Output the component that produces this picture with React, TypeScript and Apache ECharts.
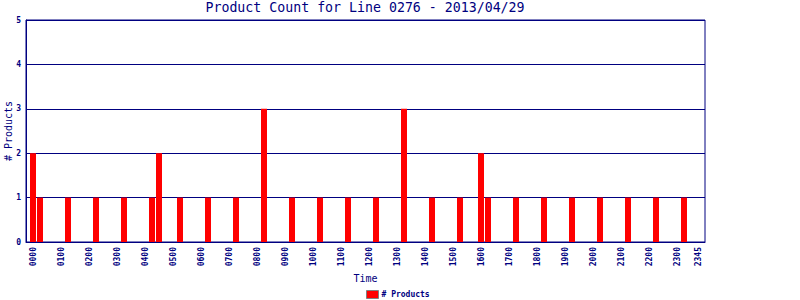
import React, { useEffect, useRef } from "react";
import * as echarts from "echarts";

const title = "Product Count for Line 0276 - 2013/04/29";
const seriesName = "# Products";
const barTimes = [
  "0000", "0015", "0115", "0215", "0315", "0415", "0430", "0515", "0615", "0715",
  "0815", "0915", "1015", "1115", "1215", "1315", "1415", "1515", "1600", "1615",
  "1715", "1815", "1915", "2015", "2115", "2215", "2315",
];
const barCounts = [
  2, 1, 1, 1, 1, 1, 2, 1, 1, 1,
  3, 1, 1, 1, 1, 3, 1, 1, 2, 1,
  1, 1, 1, 1, 1, 1, 1,
];
const tickLabels = [
  "0000", "0100", "0200", "0300", "0400", "0500", "0600", "0700", "0800", "0900",
  "1000", "1100", "1200", "1300", "1400", "1500", "1600", "1700", "1800", "1900",
  "2000", "2100", "2200", "2300", "2345",
];

const toMin = (t: string) => parseInt(t.slice(0, 2), 10) * 60 + parseInt(t.slice(2), 10);
const toLabel = (m: number) => {
  const h = Math.floor(m / 60);
  const mm = m % 60;
  return String(h).padStart(2, "0") + String(mm).padStart(2, "0");
};

const NAVY = "#000080";
const FONT = "DejaVu Sans Mono";

export default function App() {
  const ref = useRef<HTMLDivElement>(null);
  useEffect(() => {
    if (!ref.current) return;
    const chart = echarts.init(ref.current, null, { renderer: "svg" });
    chart.setOption({
      animation: false,
      backgroundColor: "#ffffff",
      title: {
        text: title,
        left: 365,
        textAlign: "center",
        top: 1,
        padding: 0,
        textStyle: { fontFamily: FONT, fontSize: 13.25, fontWeight: "normal", color: NAVY },
      },
      legend: {
        left: 366,
        top: 290,
        padding: 0,
        itemWidth: 12,
        itemHeight: 8,
        itemGap: 4,
        icon: "rect",
        data: [seriesName],
        textStyle: { fontFamily: FONT, fontSize: 8, lineHeight: 8, fontWeight: "bold", color: NAVY, padding: [0, 0, 0, -2] },
        itemStyle: { borderColor: "#808080", borderWidth: 1 },
      },
      grid: {
        left: 26,
        right: 95,
        top: 20,
        bottom: 58,
        containLabel: false,
        outerBoundsMode: "none",
        show: true,
        borderColor: NAVY,
        borderWidth: 1,
      },
      xAxis: {
        type: "value",
        min: -15,
        max: 1440,
        name: "Time",
        nameLocation: "middle",
        nameGap: 36,
        nameMoveOverlap: false,
        nameTextStyle: { fontFamily: FONT, fontSize: 10, color: NAVY, verticalAlign: "middle", align: "center" },
        axisLine: { show: true, onZero: false, lineStyle: { color: NAVY, width: 1 } },
        axisTick: { show: false },
        splitLine: { show: false },
        axisLabel: {
          customValues: tickLabels.map(toMin),
          formatter: (v: number) => toLabel(v),
          rotate: 90,
          margin: 5,
          fontFamily: FONT,
          fontSize: 8,
          fontWeight: "bold",
          color: NAVY,
        },
      },
      yAxis: {
        type: "value",
        min: 0,
        max: 5,
        interval: 1,
        name: seriesName,
        nameLocation: "middle",
        nameGap: 18,
        nameRotate: 90,
        nameMoveOverlap: false,
        nameTextStyle: { fontFamily: FONT, fontSize: 10, color: NAVY, verticalAlign: "middle", align: "center" },
        axisLine: { show: true, onZero: false, lineStyle: { color: NAVY, width: 1 } },
        axisTick: { show: false },
        splitLine: { show: true, lineStyle: { color: NAVY, width: 1 } },
        axisLabel: { margin: 5, fontFamily: FONT, fontSize: 8, fontWeight: "bold", color: NAVY },
      },
      series: [
        {
          name: seriesName,
          type: "bar",
          barWidth: 6,
          itemStyle: { color: "#ff0000" },
          data: barTimes.map((t, i) => [toMin(t), barCounts[i]]),
        },
      ],
    });
    return () => chart.dispose();
  }, []);
  return <div ref={ref} style={{ position: "fixed", left: 0, top: 0, width: 800, height: 300 }} />;
}
